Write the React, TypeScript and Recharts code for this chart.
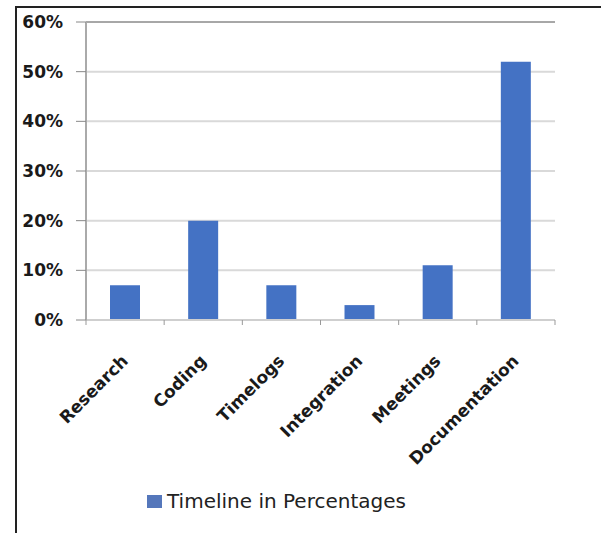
import React from "react";
import { BarChart, Bar, XAxis, YAxis, CartesianGrid, Legend, ReferenceLine } from "recharts";

const categories = ["Research", "Coding", "Timelogs", "Integration", "Meetings", "Documentation"];
const timeline = [7, 20, 7, 3, 11, 52];
const yTicks = [0, 10, 20, 30, 40, 50, 60];
const seriesName = "Timeline in Percentages";

const data = categories.map((name, i) => ({ name, value: timeline[i] }));

const FONT = "'DejaVu Sans', sans-serif";

function CategoryTick(props: any) {
  const { x, y, payload, index } = props;
  const half = payload?.offset ?? 39;
  const last = index === categories.length - 1;
  return (
    <g>
      <line x1={x - half} y1={y - 8} x2={x - half} y2={y - 3} stroke="#999" />
      {last && <line x1={x + half} y1={y - 8} x2={x + half} y2={y - 3} stroke="#999" />}
      <text
        x={x + 4}
        y={y + 34}
        textAnchor="end"
        transform={`rotate(-45, ${x + 4}, ${y + 34})`}
        fontFamily={FONT}
        fontWeight="bold"
        fontSize={17}
        fill="#1a1a1a"
      >
        {payload.value}
      </text>
    </g>
  );
}

function LegendBox() {
  return (
    <div style={{ display: "flex", alignItems: "center", fontFamily: FONT, fontSize: 20, color: "#222" }}>
      <span style={{ display: "inline-block", width: 15, height: 13, background: "#5577bb", marginRight: 5 }} />
      <span>{seriesName}</span>
    </div>
  );
}

export default function App() {
  return (
    <div style={{ position: "absolute", left: 0, top: 0, width: 601, height: 533, background: "#fff" }}>
      <div
        style={{
          position: "absolute",
          left: 15,
          top: 6,
          width: 590,
          height: 540,
          borderLeft: "2px solid #222",
          borderTop: "2px solid #222",
        }}
      />
      <BarChart
        width={601}
        height={533}
        data={data}
        margin={{ top: 22, right: 46, bottom: 0, left: 0 }}
        style={{ position: "absolute", left: 0, top: 0 }}
      >
        <CartesianGrid vertical={false} stroke="#d9d9d9" strokeWidth={2} />
        <XAxis
          dataKey="name"
          interval={0}
          height={213}
          tickLine={false}
          tick={<CategoryTick />}
          axisLine={{ stroke: "#cfcfcf", strokeWidth: 2 }}
        />
        <YAxis
          width={86}
          domain={[0, 60]}
          ticks={yTicks}
          tickFormatter={(v: number) => `${v}%`}
          tickSize={10}
          tickMargin={13}
          tickLine={{ stroke: "#888" }}
          axisLine={{ stroke: "#aaa", strokeWidth: 2 }}
          tick={{ fontFamily: FONT, fontWeight: "bold", fontSize: 17, fill: "#1a1a1a" }}
        />
        <ReferenceLine y={60} stroke="#777" strokeWidth={1} />
        <Bar dataKey="value" name={seriesName} fill="#4472c4" barSize={30} isAnimationActive={false} />
        <Legend
          layout="vertical"
          align="center"
          verticalAlign="middle"
          content={<LegendBox />}
          wrapperStyle={{ position: "absolute", left: 147, top: 489, width: "auto" }}
        />
      </BarChart>
    </div>
  );
}
